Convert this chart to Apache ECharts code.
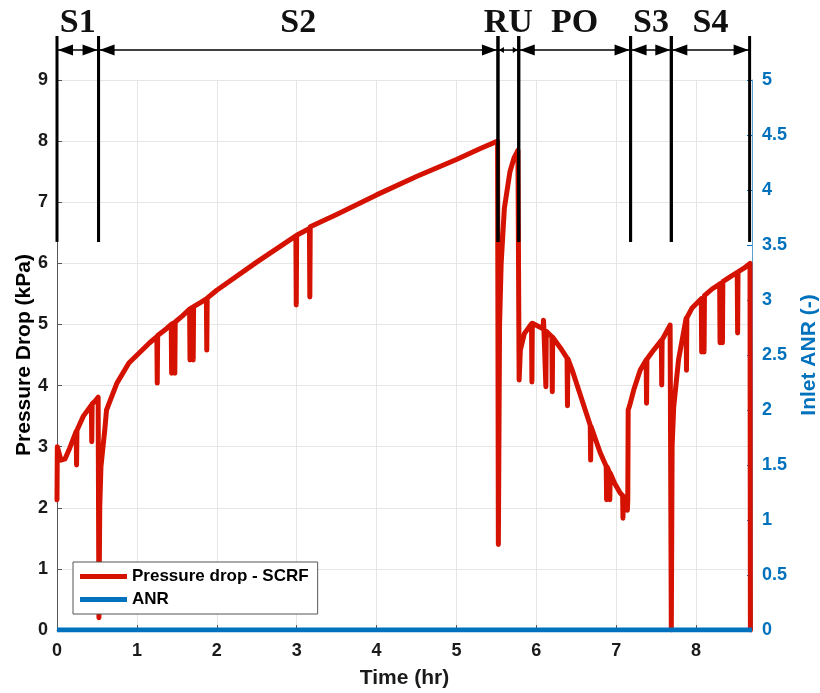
<!DOCTYPE html>
<html>
<head>
<meta charset="utf-8">
<script src="https://cdn.jsdelivr.net/npm/echarts@6/dist/echarts.min.js"></script>
<style>
html,body{margin:0;padding:0;background:#fff;}
#chart{width:820px;height:693px;}
</style>
</head>
<body>
<div id="chart"></div>
<script>
// ---- Data ----
const timeHr = [
  0.000, 0.004, 0.05, 0.10, 0.16, 0.24, 0.245, 0.25, 0.33, 0.43, 0.435, 0.44, 0.48, 0.515,
  0.525, 0.535, 0.55, 0.60, 0.62, 0.75, 0.90, 1.16,
  1.25, 1.255, 1.26, 1.37, 1.43, 1.435, 1.44, 1.47, 1.475, 1.48, 1.57,
  1.66, 1.665, 1.67, 1.70, 1.705, 1.71, 1.80, 1.87, 1.875, 1.88,
  2.00, 2.50, 2.99, 2.995, 3.00, 3.16, 3.165, 3.17, 3.50, 4.00, 4.50, 5.00, 5.30, 5.515,
  5.525, 5.54, 5.56, 5.60, 5.67, 5.72, 5.77,
  5.785, 5.80, 5.85, 5.94, 5.945, 5.95, 6.085, 6.09, 6.095, 6.115, 6.12, 6.125,
  6.195, 6.20, 6.205, 6.30, 6.385, 6.39, 6.395, 6.45, 6.55, 6.675, 6.68, 6.685,
  6.80, 6.875, 6.88, 6.885, 6.915, 6.92, 6.925, 6.98, 7.05, 7.08, 7.085, 7.09, 7.12,
  7.135, 7.14, 7.145,
  7.15, 7.17, 7.22, 7.30, 7.375, 7.38, 7.385, 7.45, 7.565, 7.57, 7.575, 7.63, 7.675,
  7.69, 7.70, 7.72, 7.78, 7.875, 7.88, 7.885, 7.95, 8.065, 8.07, 8.075, 8.095, 8.10, 8.105,
  8.20, 8.295, 8.30, 8.305, 8.325, 8.33, 8.335, 8.45, 8.515, 8.52, 8.525, 8.60, 8.675, 8.68
];
const pressureKPa = [
  2.13, 3.00, 2.78, 2.80, 2.98, 3.25, 2.70, 3.27, 3.50, 3.68, 3.08, 3.70, 3.75, 3.81,
  0.20, 2.00, 2.67, 3.30, 3.60, 4.04, 4.37, 4.70,
  4.80, 4.04, 4.82, 4.93, 5.00, 4.20, 5.01, 5.03, 4.20, 5.04, 5.14,
  5.25, 4.42, 5.26, 5.28, 4.42, 5.29, 5.36, 5.42, 4.58, 5.43,
  5.56, 6.02, 6.45, 5.32, 6.46, 6.57, 5.45, 6.60, 6.80, 7.12, 7.42, 7.70, 7.88, 8.00,
  1.40, 5.00, 6.00, 6.90, 7.50, 7.72, 7.85,
  4.09, 4.58, 4.85, 5.01, 4.06, 5.02, 4.93, 5.07, 4.92, 4.90, 3.98, 4.89,
  4.80, 3.90, 4.79, 4.62, 4.45, 3.67, 4.44, 4.25, 3.85, 3.35, 2.78, 3.33,
  2.90, 2.68, 2.13, 2.67, 2.58, 2.13, 2.57, 2.40, 2.24, 2.20, 1.83, 2.19, 2.15,
  2.13, 1.96, 2.13,
  3.60, 3.68, 3.93, 4.25, 4.42, 3.71, 4.43, 4.55, 4.74, 4.01, 4.75, 4.88, 4.99,
  0.00, 3.00, 3.65, 4.42, 5.10, 4.25, 5.11, 5.27, 5.42, 4.55, 5.43, 5.46, 4.55, 5.47,
  5.58, 5.66, 4.70, 5.67, 5.69, 4.70, 5.70, 5.80, 5.85, 4.86, 5.86, 5.92, 6.00, 0.00
];
const anrTime = [0, 8.7];
const anrValue = [0, 0];

const phaseLabels = ['S1', 'S2', 'RU', 'PO', 'S3', 'S4'];
const phaseBounds = [0, 0.52, 5.52, 5.78, 7.18, 7.69, 8.67];

const xTicks = [0, 1, 2, 3, 4, 5, 6, 7, 8];
const leftTicks = [0, 1, 2, 3, 4, 5, 6, 7, 8, 9];
const rightTicks = [0, 0.5, 1, 1.5, 2, 2.5, 3, 3.5, 4, 4.5, 5];

// ---- Build options ----
const RED = '#d51100';
const BLUE = '#0072bd';
const FONT = '"Liberation Sans", Arial, Helvetica, sans-serif';
const SERIF = '"Liberation Serif", "Times New Roman", serif';

const pressureData = timeHr.map((t, i) => [t, pressureKPa[i]]);
const anrData = anrTime.map((t, i) => [t, anrValue[i]]);

const arrowY = 9.49, lineTop = 9.72, lineBottom = 6.35, labelY = 9.93;
const phaseData = phaseLabels.map((l, i) => [phaseBounds[i], phaseBounds[i + 1], arrowY]);

function renderPhase(params, api) {
  const i = params.dataIndex;
  const x1 = api.value(0), x2 = api.value(1);
  const pa = api.coord([x1, arrowY]);
  const pb = api.coord([x2, arrowY]);
  const yTop = api.coord([x1, lineTop])[1];
  const yBot = api.coord([x1, lineBottom])[1];
  const lab = api.coord([(x1 + x2) / 2, labelY]);
  const w = pb[0] - pa[0];
  const hl = w < 30 ? 5 : 15, hh = w < 30 ? 3 : 5.5;
  const y = pa[1];
  const black = '#000';
  return {
    type: 'group',
    children: [
      { type: 'line', shape: { x1: pa[0], y1: yTop, x2: pa[0], y2: yBot }, style: { stroke: black, lineWidth: 3 } },
      { type: 'line', shape: { x1: pb[0], y1: yTop, x2: pb[0], y2: yBot }, style: { stroke: black, lineWidth: 3 } },
      { type: 'line', shape: { x1: pa[0], y1: y, x2: pb[0], y2: y }, style: { stroke: black, lineWidth: 1.5 } },
      { type: 'polygon', shape: { points: [[pa[0] + 1, y], [pa[0] + 1 + hl, y - hh], [pa[0] + 1 + hl, y + hh]] }, style: { fill: black } },
      { type: 'polygon', shape: { points: [[pb[0] - 1, y], [pb[0] - 1 - hl, y - hh], [pb[0] - 1 - hl, y + hh]] }, style: { fill: black } },
      { type: 'text', style: { text: phaseLabels[i], x: lab[0], y: lab[1], align: 'center', verticalAlign: 'middle',
          font: 'bold 34px ' + SERIF, fill: '#111' } }
    ]
  };
}

const chart = echarts.init(document.getElementById('chart'), null, { renderer: 'canvas' });
chart.setOption({
  animation: false,
  backgroundColor: '#fff',
  grid: { left: 57, right: 68, top: 80, bottom: 63, containLabel: false, outerBoundsMode: 'none' },
  legend: {
    data: [
      { name: 'Pressure drop - SCRF', icon: 'rect' },
      { name: 'ANR', icon: 'rect' }
    ],
    orient: 'vertical',
    left: 73, top: 562,
    backgroundColor: '#fff',
    borderColor: '#555',
    borderWidth: 1,
    padding: [6, 9, 6, 7],
    itemWidth: 47, itemHeight: 5, itemGap: 6,
    textStyle: { fontFamily: FONT, fontWeight: 'bold', fontSize: 17, color: '#000', lineHeight: 17 }
  },
  xAxis: {
    type: 'value', min: 0, max: 8.7, interval: 1,
    name: 'Time (hr)', nameLocation: 'middle', nameGap: 38, nameMoveOverlap: false,
    nameTextStyle: { fontFamily: FONT, fontWeight: 'bold', fontSize: 21, color: '#1a1a1a' },
    axisLine: { show: true, lineStyle: { color: '#555', width: 1 } },
    axisTick: { show: true, inside: true, length: 5, lineStyle: { color: '#555' } },
    axisLabel: { showMaxLabel: false, margin: 12, fontFamily: FONT, fontWeight: 'bold', fontSize: 18, color: '#1a1a1a',
      formatter: v => (xTicks.indexOf(v) >= 0 ? String(v) : '') },
    splitLine: { show: true, lineStyle: { color: '#e6e6e6', width: 1 } }
  },
  yAxis: [
    {
      type: 'value', min: 0, max: 9, interval: 1, position: 'left',
      name: 'Pressure Drop (kPa)', nameLocation: 'middle', nameGap: 22, nameRotate: 90, nameMoveOverlap: false,
      nameTextStyle: { fontFamily: FONT, fontWeight: 'bold', fontSize: 21, color: '#000' },
      axisLine: { show: true, lineStyle: { color: '#555', width: 1 } },
      axisTick: { show: true, inside: true, length: 5, lineStyle: { color: '#555' } },
      axisLabel: { margin: 9, fontFamily: FONT, fontWeight: 'bold', fontSize: 18, color: '#1a1a1a',
        formatter: v => (leftTicks.indexOf(v) >= 0 ? String(v) : '') },
      splitLine: { show: true, lineStyle: { color: '#e6e6e6', width: 1 } }
    },
    {
      type: 'value', min: 0, max: 5, interval: 0.5, position: 'right',
      name: 'Inlet ANR (-)', nameLocation: 'middle', nameGap: 47, nameRotate: 90, nameMoveOverlap: false,
      nameTextStyle: { fontFamily: FONT, fontWeight: 'bold', fontSize: 21, color: BLUE },
      axisLine: { show: true, lineStyle: { color: BLUE, width: 1, opacity: 0.6 } },
      axisTick: { show: true, inside: true, length: 5, lineStyle: { color: BLUE } },
      axisLabel: { margin: 10, fontFamily: FONT, fontWeight: 'bold', fontSize: 18, color: BLUE,
        formatter: v => (rightTicks.indexOf(v) >= 0 ? String(v) : '') },
      splitLine: { show: false }
    }
  ],
  series: [
    {
      name: 'Pressure drop - SCRF', type: 'line', data: pressureData, yAxisIndex: 0,
      showSymbol: false, symbol: 'none', color: RED,
      lineStyle: { color: RED, width: 5, cap: 'round', join: 'round' }, z: 3
    },
    {
      name: 'ANR', type: 'line', data: anrData, yAxisIndex: 1,
      showSymbol: false, symbol: 'none', color: BLUE,
      lineStyle: { color: BLUE, width: 5 }, z: 4
    },
    {
      name: 'phases', type: 'custom', coordinateSystem: 'cartesian2d', yAxisIndex: 0,
      data: phaseData, encode: { x: [0, 1], y: 2 }, renderItem: renderPhase, clip: false, z: 5,
      silent: true
    }
  ]
});
</script>
</body>
</html>
